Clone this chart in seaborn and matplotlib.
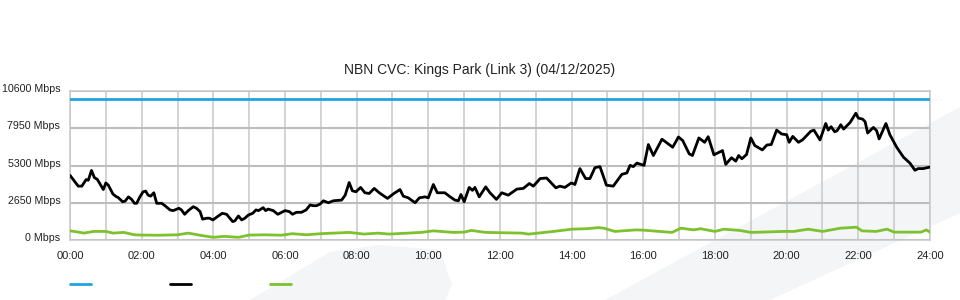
import matplotlib
matplotlib.use("Agg")
import matplotlib.pyplot as plt
import matplotlib.transforms as mtransforms
from matplotlib.patches import Polygon
from matplotlib.lines import Line2D
import seaborn as sns
import pandas as pd

title = "NBN CVC: Kings Park (Link 3) (04/12/2025)"
y_ticks = [0, 2650, 5300, 7950, 10600]
y_tick_labels = ["0 Mbps", "2650 Mbps", "5300 Mbps", "7950 Mbps", "10600 Mbps"]
x_ticks = list(range(0, 25, 2))
x_tick_labels = [f"{h:02d}:00" for h in x_ticks]

capacity_hours = [0, 24]
capacity_mbps = [10000, 10000]

down_hours = [0.00, 0.23, 0.33, 0.45, 0.51, 0.60, 0.68, 0.76, 0.93, 1.00, 1.07, 1.20, 1.30, 1.34, 1.47,
              1.54, 1.63, 1.72, 1.80, 1.86, 1.95, 2.04, 2.11, 2.18, 2.25, 2.34, 2.42, 2.56, 2.65, 2.79,
              2.88, 3.04, 3.11, 3.20, 3.30, 3.44, 3.53, 3.63, 3.70, 3.81, 3.89, 3.99, 4.14, 4.25, 4.37,
              4.54, 4.60, 4.70, 4.79, 4.88, 4.98, 5.10, 5.19, 5.26, 5.39, 5.46, 5.53, 5.67, 5.80, 5.91,
              6.00, 6.12, 6.21, 6.32, 6.46, 6.59, 6.70, 6.79, 6.88, 6.98, 7.07, 7.21, 7.35, 7.58, 7.68,
              7.79, 7.88, 7.98, 8.11, 8.23, 8.35, 8.49, 8.63, 8.86, 9.04, 9.21, 9.30, 9.44, 9.63, 9.75,
              9.91, 10.00, 10.14, 10.25, 10.46, 10.61, 10.74, 10.84, 10.91, 11.00, 11.14, 11.23, 11.30,
              11.42, 11.60, 11.72, 11.90, 12.05, 12.23, 12.47, 12.65, 12.82, 12.93, 13.12, 13.30, 13.56,
              13.67, 13.81, 13.99, 14.09, 14.23, 14.39, 14.51, 14.65, 14.79, 14.97, 15.16, 15.40, 15.54,
              15.63, 15.72, 15.82, 15.91, 16.02, 16.14, 16.28, 16.52, 16.82, 16.98, 17.10, 17.28, 17.37,
              17.55, 17.71, 17.81, 17.97, 18.21, 18.30, 18.46, 18.58, 18.66, 18.75, 18.88, 19.00, 19.11,
              19.32, 19.45, 19.57, 19.72, 19.86, 20.00, 20.07, 20.17, 20.33, 20.45, 20.67, 20.76, 20.93,
              21.09, 21.16, 21.24, 21.34, 21.41, 21.51, 21.59, 21.77, 21.93, 22.00, 22.12, 22.19, 22.26,
              22.42, 22.51, 22.58, 22.77, 22.88, 23.07, 23.26, 23.44, 23.58, 23.67, 23.81, 24.00]
down_mbps = [4600, 3830, 3830, 4300, 4250, 4950, 4440, 4320, 3590, 4060, 3900, 3260, 3070, 3030, 2720,
             2770, 3070, 2890, 2610, 2610, 3070, 3430, 3480, 3190, 3120, 3360, 2610, 2610, 2440, 2140,
             2090, 2260, 2140, 1830, 2090, 2370, 2260, 2020, 1480, 1550, 1550, 1430, 1710, 1900, 1830,
             1310, 1360, 1710, 1430, 1550, 1780, 1900, 2140, 2090, 2300, 2090, 2200, 2090, 1830, 1970,
             2090, 2020, 1830, 1970, 1970, 2140, 2490, 2440, 2440, 2560, 2790, 2650, 2790, 2840, 3190,
             4090, 3500, 3430, 3740, 3360, 3310, 3670, 3360, 2960, 3310, 3590, 3120, 3000, 2650, 3000,
             3070, 3000, 3950, 3360, 3360, 3070, 2840, 2790, 3240, 2720, 3740, 3530, 3740,
             3070, 3780, 3360, 2890, 3360, 3190, 3620, 3670, 4020, 3830, 4370, 4410, 3710,
             3830, 3740, 4060, 3950, 5080, 4370, 4370, 5150, 5220, 3900, 3830, 4670, 4770,
             5310, 5220, 5470, 5400, 5310, 6790, 6010, 7170, 6600, 7330, 7070, 6130, 6010,
             7260, 6950, 7350, 6060, 6360, 5380, 5850, 5610, 6010, 5780, 6080, 7260, 6720,
             6410, 6760, 6790, 7820, 7540, 7490, 6950, 7370, 6950, 7140, 7730, 7820, 7120,
             8290, 7820, 8060, 7700, 7780, 8200, 7890, 8360, 9020, 8670, 8600, 8410, 7610,
             8010, 7780, 7190, 8290, 7490, 6600, 5890, 5470, 4960, 5080, 5080, 5190]

up_hours = [0.0, 0.4, 0.65, 1.0, 1.2, 1.5, 1.8, 2.0, 2.5, 3.0, 3.3, 3.6, 4.0, 4.3, 4.7, 5.0, 5.45, 5.9,
            6.2, 6.6, 7.0, 7.8, 8.2, 8.6, 8.9, 9.8, 10.14, 10.7, 11.0, 11.2, 11.6, 12.6, 12.8, 13.5,
            14.0, 14.4, 14.75, 14.9, 15.2, 15.8, 16.0, 16.8, 17.05, 17.4, 17.6, 18.0, 18.25, 18.7,
            19.0, 19.3, 19.9, 20.2, 20.6, 21.0, 21.5, 21.95, 22.1, 22.5, 22.8, 23.0, 23.75, 23.9, 24.0]
up_mbps = [655, 490, 610, 610, 490, 540, 370, 350, 340, 370, 490, 350, 190, 260, 190, 350, 370, 340,
           450, 370, 450, 540, 420, 490, 420, 540, 650, 540, 560, 680, 540, 490, 420, 610,
           770, 800, 880, 840, 610, 720, 700, 540, 840, 720, 800, 610, 770, 680,
           540, 560, 610, 610, 770, 610, 840, 910, 650, 610, 770, 560, 560, 720, 560]

colors = {"capacity": "#1fa3e0", "down": "#000000", "up": "#7dc12f"}

sns.set_theme(style="white")
plt.rcParams["font.family"] = ["Liberation Sans", "DejaVu Sans"]

fig = plt.figure(figsize=(9.6, 3.0), dpi=100)
ax = fig.add_axes([70 / 960, 60 / 300, 860 / 960, 149 / 300])

# background watermark
wm = "#f4f5f7"
fig.patches.append(Polygon([[250 / 960, 0], [330 / 960, 48 / 300], [380 / 960, 55 / 300],
                            [440 / 960, 50 / 300], [452 / 960, 15 / 300], [445 / 960, 0]],
                           closed=True, transform=fig.transFigure, facecolor=wm, edgecolor="none", zorder=-10))
fig.patches.append(Polygon([[605 / 960, 0], [1.0, 193 / 300], [1.0, 87 / 300], [770 / 960, 0]],
                           closed=True, transform=fig.transFigure, facecolor=wm, edgecolor="none", zorder=-10))
ax.patch.set_alpha(0)

df_cap = pd.DataFrame({"hour": capacity_hours, "mbps": capacity_mbps})
df_down = pd.DataFrame({"hour": down_hours, "mbps": down_mbps})
df_up = pd.DataFrame({"hour": up_hours, "mbps": up_mbps})

sns.lineplot(data=df_cap, x="hour", y="mbps", ax=ax, color=colors["capacity"], linewidth=2, zorder=5)
sns.lineplot(data=df_down, x="hour", y="mbps", ax=ax, color=colors["down"], linewidth=2, zorder=6)
sns.lineplot(data=df_up, x="hour", y="mbps", ax=ax, color=colors["up"], linewidth=2, zorder=4)

ax.set_xlim(0, 24)
ax.set_ylim(0, 10600)
ax.set_xticks(x_ticks)
ax.set_xticklabels(x_tick_labels)
ax.set_xticks(range(0, 25), minor=True)
ax.set_yticks(y_ticks)
ax.set_yticklabels(y_tick_labels)
ax.set_xlabel("")
ax.set_ylabel("")

ax.grid(True, which="major", axis="y", color="#bdbdbd", linewidth=1.5, zorder=0)
ax.grid(True, which="both", axis="x", color="#c8c8c8", linewidth=1.1, zorder=0)
ax.set_axisbelow(True)
for s in ax.spines.values():
    s.set_color("#c8c8c8")
    s.set_linewidth(1.1)

ax.tick_params(axis="both", which="both", length=0, labelsize=8, colors="#222222")
ax.tick_params(axis="y", pad=7, labelsize=7.7)
ax.tick_params(axis="x", pad=8)
shift = mtransforms.ScaledTranslation(0, 2 / 72, fig.dpi_scale_trans)
for lbl in ax.get_yticklabels():
    lbl.set_transform(lbl.get_transform() + shift)

ax.set_title(title, fontsize=10, color="#222222", pad=12, x=(480 - 70) / 860)

handles = [Line2D([], [], color=colors[k], linewidth=2) for k in ["capacity", "down", "up"]]
fig.legend(handles, ["", "", ""], ncol=3, frameon=False, loc="center left",
           bbox_to_anchor=(64 / 960, 15 / 300), handlelength=1.9, handletextpad=0,
           columnspacing=7.1, borderpad=0, fontsize=8)

fig.savefig("out.png", dpi=100, facecolor="white")
